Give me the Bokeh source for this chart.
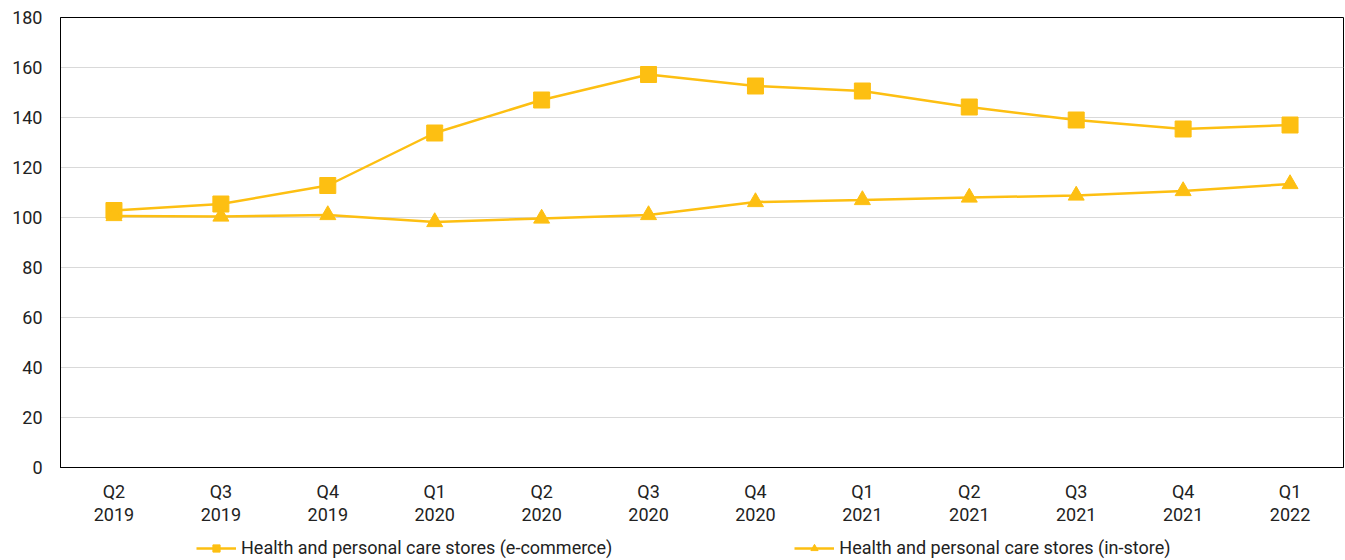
from bokeh.plotting import figure
from bokeh.layouts import column
from bokeh.models import ColumnDataSource, Legend, LegendItem, FixedTicker, Range1d
from bokeh.embed import file_html
from bokeh.resources import INLINE

quarters = ["Q2\n2019", "Q3\n2019", "Q4\n2019", "Q1\n2020", "Q2\n2020", "Q3\n2020",
            "Q4\n2020", "Q1\n2021", "Q2\n2021", "Q3\n2021", "Q4\n2021", "Q1\n2022"]
ecommerce = [102.8, 105.4, 112.8, 133.8, 147.0, 157.2, 152.6, 150.6, 144.2, 139.0, 135.4, 137.0]
instore = [100.6, 100.4, 101.0, 98.2, 99.6, 101.0, 106.2, 107.0, 108.0, 108.8, 110.6, 113.4]
y_ticks = [0, 20, 40, 60, 80, 100, 120, 140, 160, 180]
series_names = ["Health and personal care stores (e-commerce)",
                "Health and personal care stores (in-store)"]

COLOR = "#FDBF12"
FONT = "Roboto"
TXT = "#222222"

xs = list(range(len(quarters)))
src = ColumnDataSource(dict(x=xs, e=ecommerce, i=instore))

p = figure(width=1345, height=530, output_backend="svg", toolbar_location=None,
           x_range=Range1d(-0.5, len(quarters) - 0.5), y_range=Range1d(0, 180),
           min_border_left=60, min_border_top=17, min_border_bottom=63, min_border_right=2)
p.outline_line_color = "black"
p.outline_line_width = 1

p.xgrid.grid_line_color = None
p.ygrid.grid_line_color = "#d9d9d9"
p.ygrid.grid_line_width = 1

p.yaxis.ticker = FixedTicker(ticks=y_ticks)
p.xaxis.ticker = FixedTicker(ticks=xs)
p.xaxis.major_label_overrides = {i: q for i, q in enumerate(quarters)}
for ax in (p.xaxis[0], p.yaxis[0]):
    ax.major_tick_line_color = None
    ax.minor_tick_line_color = None
    ax.axis_line_color = "black"
    ax.major_label_text_font = FONT
    ax.major_label_text_font_size = "18px"
    ax.major_label_text_color = TXT
p.yaxis.major_label_standoff = 12
p.xaxis.major_label_standoff = 7
p.xaxis.major_label_text_line_height = 1.1

p.line("x", "e", source=src, line_color=COLOR, line_width=2.5)
p.scatter("x", "e", source=src, marker="square", size=16, fill_color=COLOR, line_color=COLOR)
p.line("x", "i", source=src, line_color=COLOR, line_width=2.5)
p.scatter("x", "i", source=src, marker="triangle", size=16, fill_color=COLOR, line_color=COLOR)

# legend strip below the chart (same series, ranges set so only the legend shows)
lg = figure(width=1345, height=30, output_backend="svg", toolbar_location=None,
            x_range=Range1d(1000, 1001), y_range=Range1d(1000, 1001),
            x_axis_type=None, y_axis_type=None,
            min_border_left=0, min_border_right=0, min_border_top=0, min_border_bottom=0)
lg.outline_line_color = None
lg.xgrid.grid_line_color = None
lg.ygrid.grid_line_color = None
a1 = lg.line("x", "e", source=src, line_color=COLOR, line_width=2.5)
b1 = lg.scatter("x", "e", source=src, marker="square", size=16, fill_color=COLOR, line_color=COLOR)
a2 = lg.line("x", "i", source=src, line_color=COLOR, line_width=2.5)
b2 = lg.scatter("x", "i", source=src, marker="triangle", size=16, fill_color=COLOR, line_color=COLOR)

legend = Legend(items=[
    LegendItem(label=series_names[0], renderers=[a1, b1]),
    LegendItem(label=series_names[1], renderers=[a2, b2]),
], orientation="horizontal", location=(136, 2))
legend.border_line_color = None
legend.background_fill_alpha = 0
legend.label_text_font = FONT
legend.label_text_font_size = "18px"
legend.label_text_color = TXT
legend.label_height = 18
legend.glyph_height = 18
legend.glyph_width = 40
legend.label_standoff = 5
legend.spacing = 182
legend.padding = 0
legend.margin = 0
lg.add_layout(legend, "center")

layout = column(p, lg, spacing=0)
open("out.html", "w").write(file_html(layout, INLINE))
